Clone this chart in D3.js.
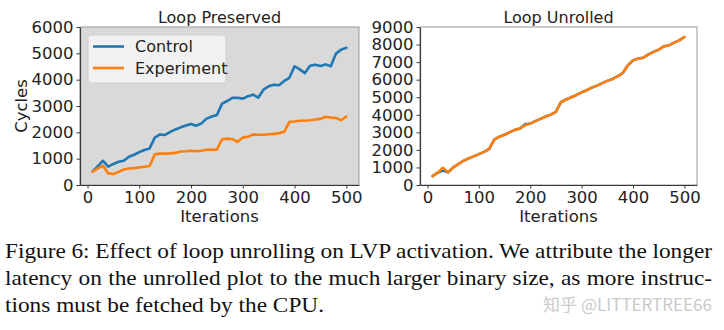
<!DOCTYPE html>
<html>
<head>
<meta charset="utf-8">
<script src="https://d3js.org/d3.v7.min.js"></script>
<style>
  body { margin:0; background:#fff; }
  svg text { font-family: "DejaVu Sans", sans-serif; fill:#222; }
  svg text.caption { font-family: "Liberation Serif", "Times New Roman", serif; font-size:21px; fill:#111; }
  svg text.mark { font-family: "Noto Sans CJK SC", "DejaVu Sans", sans-serif; font-size:17px; fill:#cacaca; }
</style>
</head>
<body>
<script>
// data
var iterations = [10,20,30,40,50,60,70,80,90,100,110,120,130,140,150,160,170,180,190,200,
                  210,220,230,240,250,260,270,280,290,300,310,320,330,340,350,360,370,380,390,400,
                  410,420,430,440,450,460,470,480,490,500];

var preservedControl = [520,720,920,700,800,880,920,1070,1150,1250,1330,1390,1800,1920,1900,2020,2110,2190,2260,2320,
                        2250,2340,2520,2600,2660,3090,3190,3310,3310,3280,3370,3430,3320,3620,3750,3810,3790,3950,4070,4510,
                        4390,4250,4530,4570,4520,4580,4510,4990,5140,5210];
var preservedExperiment = [510,630,730,440,420,500,590,630,640,670,690,720,1170,1190,1190,1200,1220,1270,1280,1300,
                           1280,1300,1340,1350,1340,1740,1760,1740,1640,1800,1830,1920,1910,1910,1930,1940,1970,2020,2400,2410,
                           2440,2440,2460,2490,2510,2590,2560,2550,2460,2600];
var unrolledControl = [510,700,820,720,1000,1190,1380,1510,1630,1760,1890,2050,2590,2750,2860,3010,3140,3220,3460,3500,
                       3640,3770,3900,4010,4170,4730,4870,5000,5130,5280,5400,5550,5660,5800,5930,6040,6190,6380,6820,7100,
                       7200,7250,7440,7580,7710,7900,7950,8110,8240,8430];
var unrolledExperiment = [510,700,980,720,1000,1190,1380,1510,1630,1760,1890,2050,2590,2750,2860,3010,3140,3220,3400,3500,
                          3640,3770,3900,4010,4170,4730,4870,5000,5130,5280,5400,5550,5660,5800,5930,6040,6190,6380,6820,7100,
                          7200,7250,7440,7580,7710,7900,7950,8110,8240,8430];

var xTicks = [0,100,200,300,400,500];
var preservedTicks = [0,1000,2000,3000,4000,5000,6000];
var unrolledTicks = [0,1000,2000,3000,4000,5000,6000,7000,8000,9000];
var seriesNames = ['Control','Experiment'];
var seriesColors = ['#1f77b4','#ff7f0e'];

var captionLines = [
  'Figure 6: Effect of loop unrolling on LVP activation. We attribute the longer',
  'latency on the unrolled plot to the much larger binary size, as more instruc-',
  'tions must be fetched by the CPU.'
];
var watermark = '知乎 @LITTERTREE66';

var width = 724, height = 330;

var svg = d3.select('body').append('svg')
  .attr('width', width)
  .attr('height', height);

function drawPanel(p) {
  var x = d3.scaleLinear().domain([-14.5, 524.5]).range([p.left, p.right]);
  var y = d3.scaleLinear().domain([0, p.yMax]).range([p.bottom, p.top]);
  var g = svg.append('g');

  g.append('rect')
    .attr('x', p.left).attr('y', p.top)
    .attr('width', p.right - p.left).attr('height', p.bottom - p.top)
    .attr('fill', p.bg)
    .attr('stroke', '#9a9a9a').attr('stroke-width', 1);

  var line = d3.line()
    .x(function(d) { return x(d[0]); })
    .y(function(d) { return y(d[1]); });

  p.series.forEach(function(vals, i) {
    g.append('path')
      .datum(iterations.map(function(it, k) { return [it, vals[k]]; }))
      .attr('d', line)
      .attr('fill', 'none')
      .attr('stroke', seriesColors[i])
      .attr('stroke-width', 2.6)
      .attr('stroke-linejoin', 'round')
      .attr('stroke-linecap', 'round');
  });

  var xAxis = g.append('g')
    .attr('transform', 'translate(0,' + p.bottom + ')')
    .call(d3.axisBottom(x).tickValues(xTicks).tickFormat(d3.format('d')).tickSize(3.5).tickSizeOuter(0).tickPadding(3));
  var yAxis = g.append('g')
    .attr('transform', 'translate(' + p.left + ',0)')
    .call(d3.axisLeft(y).tickValues(p.ticks).tickFormat(d3.format('d')).tickSize(3.5).tickSizeOuter(0).tickPadding(3));

  [xAxis, yAxis].forEach(function(a) {
    a.select('.domain').attr('stroke', '#3a3a3a').attr('stroke-width', 1.2);
    a.selectAll('.tick line').attr('stroke', '#3a3a3a');
    a.selectAll('.tick text')
      .attr('fill', '#222')
      .style('font-size', '16.5px')
      .style('font-family', '"DejaVu Sans", sans-serif');
  });

  g.append('text')
    .attr('x', (p.left + p.right) / 2)
    .attr('y', p.top - 4.5)
    .attr('text-anchor', 'middle')
    .style('font-size', '16px')
    .text(p.title);

  g.append('text')
    .attr('x', (p.left + p.right) / 2)
    .attr('y', p.bottom + 37)
    .attr('text-anchor', 'middle')
    .style('font-size', '16.5px')
    .text('Iterations');

  if (p.yLabel) {
    g.append('text')
      .attr('transform', 'translate(27,' + (p.top + p.bottom) / 2 + ') rotate(-90)')
      .attr('text-anchor', 'middle')
      .style('font-size', '16.5px')
      .text(p.yLabel);
  }

  if (p.legend) {
    var lg = g.append('g');
    lg.append('rect')
      .attr('x', p.left + 8).attr('y', p.top + 8)
      .attr('width', 138).attr('height', 48)
      .attr('rx', 3)
      .attr('fill', '#f3f3f3').attr('fill-opacity', 0.9)
      .attr('stroke', '#d0d0d0');
    seriesNames.forEach(function(name, i) {
      var yy = p.top + 19.5 + i * 21.5;
      lg.append('line')
        .attr('x1', p.left + 13).attr('x2', p.left + 44)
        .attr('y1', yy).attr('y2', yy)
        .attr('stroke', seriesColors[i]).attr('stroke-width', 2.6);
      lg.append('text')
        .attr('x', p.left + 55).attr('y', yy + 5.5)
        .style('font-size', '16px')
        .text(name);
    });
  }
}

drawPanel({
  left: 80, right: 359, top: 27, bottom: 185,
  yMax: 6000, ticks: preservedTicks,
  series: [preservedControl, preservedExperiment],
  bg: '#d9d9d9', title: 'Loop Preserved', yLabel: 'Cycles', legend: true
});

drawPanel({
  left: 420, right: 697, top: 27, bottom: 185,
  yMax: 9000, ticks: unrolledTicks,
  series: [unrolledControl, unrolledExperiment],
  bg: '#ffffff', title: 'Loop Unrolled', yLabel: null, legend: false
});

// caption: the scan is a little wider than tall, so stretch it sideways
var capLeft = 5, capRight = 712, stretch = 1.11;
var cap = svg.append('g')
  .attr('transform', 'translate(' + capLeft + ',0) scale(' + stretch + ',1)');
captionLines.forEach(function(txt, i) {
  var t = cap.append('text')
    .attr('class', 'caption')
    .attr('x', 0)
    .attr('y', 258 + i * 27)
    .text(txt);
  if (i < captionLines.length - 1) {
    var natural = t.node().getComputedTextLength();
    var gaps = txt.split(' ').length - 1;
    t.attr('word-spacing', ((capRight - capLeft) / stretch - natural) / gaps);
  }
});

svg.append('text')
  .attr('class', 'mark')
  .attr('x', 712)
  .attr('y', 311)
  .attr('text-anchor', 'end')
  .text(watermark);
</script>
</body>
</html>
